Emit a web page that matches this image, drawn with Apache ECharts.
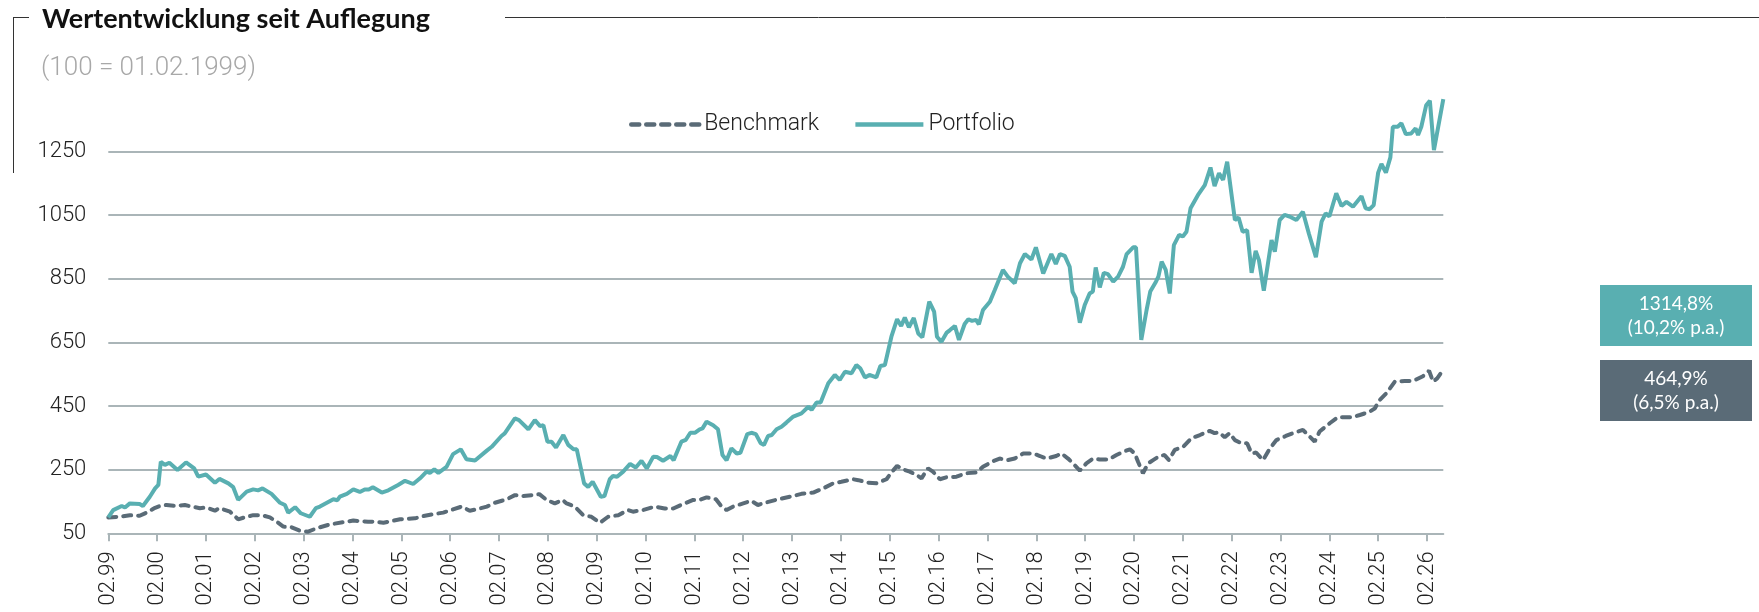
<!DOCTYPE html>
<html>
<head>
<meta charset="utf-8">
<script src="https://cdn.jsdelivr.net/npm/echarts@6/dist/echarts.min.js"></script>
<style>
  html, body { margin: 0; padding: 0; background: #fff; }
  #chart { width: 1759px; height: 612px; }
</style>
</head>
<body>
<div id="chart"></div>
<script>
// x = months since 02.1999, y = index (100 = 01.02.1999)
var yearLabels = ['02.99','02.00','02.01','02.02','02.03','02.04','02.05','02.06','02.07','02.08',
  '02.09','02.10','02.11','02.12','02.13','02.14','02.15','02.16','02.17','02.18',
  '02.19','02.20','02.21','02.22','02.23','02.24','02.25','02.26'];

var portfolio = [
  [0,100],[1.2,123],[3.3,136],[4.1,131],[5.3,144],[7.7,142],[8.5,136],[10.2,165],[11.5,191],[12.3,202],
  [12.9,275],[13.9,265],[15,272],[17,249],[19.1,273],[21.1,254],[22.1,228],[24,235],[26.2,209],[27.3,221],
  [29.5,207],[30.7,195],[31.9,155],[34,181],[35.6,188],[36.8,185],[37.9,191],[40.1,174],[42.2,146],[43.4,139],
  [44.2,115],[45.9,132],[47.3,113],[49.5,102],[51,129],[52,134],[55.3,157],[56.3,154],[56.9,165],[58.6,174],
  [60.2,188],[61.8,180],[63,188],[64,188],[65,195],[67.2,178],[68.8,185],[71.2,202],[72.9,215],[74.9,205],
  [76.6,223],[78.2,244],[79,240],[80.1,251],[81.1,240],[83.1,259],[84.7,299],[86.6,314],[88,283],[90.1,279],
  [93,310],[94.2,322],[96.6,356],[97.4,364],[99.9,411],[100.9,406],[103.2,377],[104.8,406],[106.1,387],[106.9,390],
  [107.9,338],[108.9,338],[110,320],[111.8,359],[113,328],[114.3,314],[115.1,314],[116.9,207],[117.9,196],[119,212],
  [121,165],[121.9,167],[123.2,220],[124,230],[125,228],[126.5,244],[128.2,268],[129.6,257],[131,278],[132.3,254],
  [133.9,291],[134.8,290],[136.3,278],[138.1,293],[138.9,280],[140.8,338],[141.9,344],[143,366],[144.1,366],[145.3,377],
  [146,380],[147,401],[148.6,390],[149.8,377],[150.9,296],[151.9,280],[153.1,317],[154.4,301],[155.3,303],[157,362],
  [158,366],[159.1,362],[160.3,333],[161.1,328],[162.1,356],[163,359],[164.2,377],[165.4,385],[166.6,398],[168.3,417],
  [170.3,427],[172,448],[172.8,438],[174,461],[175,461],[176.9,522],[178.5,548],[179.7,532],[181,558],[182.6,553],
  [183.8,579],[184.8,568],[185.9,540],[187,548],[188.7,540],[189.7,576],[190.8,579],[192.4,668],[193.8,723],[194.8,702],
  [195.7,728],[196.7,698],[197.9,727],[199,678],[200,666],[201.7,778],[202.9,747],[203.6,668],[204.7,652],[206,681],
  [206.8,689],[208,702],[209,658],[210.4,708],[211.3,723],[212.2,718],[213.2,721],[213.9,707],[214.9,752],[216.6,778],
  [217.8,815],[219.8,878],[221,857],[222.7,836],[224,899],[225.2,928],[226.8,911],[227.9,949],[229.7,867],[231.7,928],
  [232.8,897],[233.8,928],[235,922],[236.2,888],[236.9,810],[237.7,789],[238.7,712],[239.9,768],[241.1,804],[241.9,810],
  [242.6,886],[243.6,823],[244.6,869],[245.6,865],[246.9,841],[248.1,857],[249.3,888],[250.2,928],[251.8,949],[252.5,949],
  [253.8,658],[255.1,752],[256,810],[257.4,841],[258,857],[258.8,904],[259.8,878],[260.8,804],[261.8,956],[263.1,988],
  [264,983],[264.9,998],[265.9,1072],[267.7,1113],[269.4,1145],[270.8,1200],[271.8,1142],[272.9,1182],[273.9,1161],[274.9,1218],
  [276.8,1035],[277.7,1043],[278.7,998],[279.8,1003],[280.9,869],[281.9,938],[282.7,909],[283.9,813],[285.8,972],[286.6,935],
  [287.8,1035],[289,1051],[290.2,1046],[291.9,1035],[293.5,1061],[295,991],[296.7,918],[298.1,1030],[299.1,1056],[300,1046],
  [301.7,1119],[303,1079],[304.2,1092],[305.8,1077],[307.9,1110],[308.9,1072],[309.9,1069],[310.9,1082],[312,1184],[312.8,1211],
  [313.9,1184],[315,1232],[315.6,1328],[316.8,1328],[317.7,1339],[318.8,1305],[320.1,1307],[321.2,1323],[321.8,1302],[322.6,1328],
  [323.8,1396],[324.7,1410],[325.7,1255],[328,1414.8]
];

var benchmark = [
  [0,100],[2.9,102],[5.3,107],[7.7,105],[9.4,115],[11.5,130],[12.7,136],[14.3,139],[16.5,136],[18.8,139],
  [20.5,134],[22.5,129],[24.1,131],[26.2,121],[27.3,129],[29.9,118],[31.9,94],[34,102],[35.6,107],[37.7,107],
  [39.7,100],[41.4,86],[43,71],[45,69],[47.1,58],[49.1,55],[51.2,66],[54.5,78],[57.7,85],[60.2,90],
  [63.8,86],[65.5,87],[67.6,83],[71.7,94],[75.3,97],[77.4,104],[79.8,110],[82.3,115],[84.7,125],[86.8,134],
  [88.8,121],[90.4,125],[93,134],[95,146],[97.9,157],[99.9,170],[101.9,167],[104.4,170],[105.9,173],[107.7,155],
  [109.7,144],[111.6,155],[112.6,144],[114.6,134],[116.7,107],[118.7,102],[120.8,83],[122.8,102],[125.3,107],[127.7,123],
  [128.9,118],[131.4,123],[134.3,134],[136.7,128],[138.8,128],[141.2,142],[143.7,155],[145.3,155],[147,163],[149.3,157],
  [150.7,134],[151.9,123],[153.5,134],[156,144],[158,152],[159.6,139],[161.7,147],[164.6,157],[167.5,165],[170.3,174],
  [173.2,178],[175.6,191],[178.1,207],[180.1,212],[183,220],[184.3,217],[186.7,209],[188.7,207],[191.2,220],[192.4,241],
  [193.8,262],[195.3,251],[196.9,244],[198.6,233],[199.8,223],[201.4,254],[202.6,244],[204.3,220],[205.9,226],[208.4,228],
  [210.9,239],[213.3,241],[214.9,259],[217.4,277],[219,285],[221,280],[222.7,285],[224.8,301],[227.2,301],[228.9,293],
  [230.5,285],[232.9,293],[234.2,301],[235.8,285],[237,270],[238.7,247],[240.3,270],[242,285],[243.6,282],[245.7,282],
  [247.7,296],[249.3,306],[251,314],[252.2,301],[253,275],[254.2,239],[255.5,270],[256.7,280],[258.3,293],[259.5,296],
  [260.6,280],[262,312],[264.1,322],[266.1,349],[268.2,359],[270.6,372],[271.8,365],[272.9,367],[274.3,352],[275.5,365],
  [276.8,343],[278.4,333],[279.8,333],[280.9,301],[282,304],[283.7,280],[285.4,317],[287,343],[289.3,356],[291.1,365],
  [293.5,375],[294.8,359],[296.4,338],[297.6,370],[300.1,396],[302.1,415],[304,415],[305.8,415],[307.5,422],[309.9,432],
  [311.2,443],[312.2,467],[314,490],[316.1,527],[318.5,529],[320.6,529],[323,544],[324.5,561],[325.5,527],[326.5,537],
  [328,564.9]
];

var portfolioBox = ['1314,8%', '(10,2% p.a.)'];
var benchmarkBox = ['464,9%', '(6,5% p.a.)'];

var tickMonths = yearLabels.map(function (l, i) { return i * 12; });

var teal = '#59afb1';
var slate = '#5a6b77';
var gridColor = '#aab5b8';
var axisFont = 'Roboto';

var chart = echarts.init(document.getElementById('chart'));
chart.setOption({
  animation: false,
  backgroundColor: '#fff',
  title: [
    {
      text: 'Wertentwicklung seit Auflegung',
      left: 42, top: 6, padding: 0,
      textStyle: { fontFamily: 'Lato', fontWeight: 'bold', fontSize: 27, color: '#111' }
    },
    {
      text: '(100 = 01.02.1999)',
      left: 41, top: 55, padding: 0,
      textStyle: { fontFamily: axisFont, fontWeight: 300, fontSize: 26, color: '#a8a8a8' }
    }
  ],
  legend: {
    data: ['Benchmark', 'Portfolio'],
    left: 624, top: 108,
    itemWidth: 68, itemHeight: 14, itemGap: 34,
    itemStyle: { opacity: 0 },
    lineStyle: { width: 4.5 },
    textStyle: { fontFamily: axisFont, fontWeight: 300, fontSize: 23, color: '#222' }
  },
  grid: { left: 108.3, right: 315.7, top: 88, bottom: 78.7, containLabel: false },
  xAxis: {
    type: 'value', min: 0, max: 328,
    axisLine: { show: true, lineStyle: { color: gridColor, width: 2 } },
    axisTick: { show: true, length: 8, customValues: tickMonths, lineStyle: { color: gridColor, width: 2 } },
    axisLabel: {
      customValues: tickMonths, rotate: 90, margin: 18,
      fontFamily: axisFont, fontWeight: 300, fontSize: 22, color: '#222',
      formatter: function (v) { return yearLabels[Math.round(v / 12)]; }
    },
    splitLine: { show: false }
  },
  yAxis: {
    type: 'value', min: 50, max: 1450, interval: 200,
    axisLine: { show: false }, axisTick: { show: false },
    axisLabel: {
      showMaxLabel: false, margin: 22, fontFamily: axisFont, fontWeight: 300, fontSize: 22, color: '#222',
      formatter: function (v) { return String(v); }
    },
    splitLine: { showMaxLine: false, lineStyle: { color: gridColor, width: 2 } }
  },
  series: [
    {
      name: 'Benchmark', type: 'line', data: benchmark, symbol: 'none', z: 2,
      lineStyle: { color: slate, width: 4, type: [8, 7], cap: 'round' },
      itemStyle: { color: slate }
    },
    {
      name: 'Portfolio', type: 'line', data: portfolio, symbol: 'none', z: 3,
      lineStyle: { color: teal, width: 4 },
      itemStyle: { color: teal }
    }
  ],
  graphic: [
    { type: 'line', shape: { x1: 13, y1: 17.5, x2: 29, y2: 17.5 }, style: { stroke: '#333', lineWidth: 1 } },
    { type: 'line', shape: { x1: 505, y1: 17.5, x2: 1759, y2: 17.5 }, style: { stroke: '#333', lineWidth: 1 } },
    { type: 'line', shape: { x1: 13.5, y1: 17, x2: 13.5, y2: 173 }, style: { stroke: '#333', lineWidth: 1 } },
    { type: 'rect', shape: { x: 1600, y: 285, width: 152, height: 61 }, style: { fill: teal } },
    {
      type: 'text', x: 1676, y: 315.5,
      style: { text: portfolioBox.join('\n'), fill: '#fff', font: '19px Lato', align: 'center', verticalAlign: 'middle', lineHeight: 24 }
    },
    { type: 'rect', shape: { x: 1600, y: 360, width: 152, height: 61 }, style: { fill: slate } },
    {
      type: 'text', x: 1676, y: 390.5,
      style: { text: benchmarkBox.join('\n'), fill: '#fff', font: '19px Lato', align: 'center', verticalAlign: 'middle', lineHeight: 24 }
    }
  ]
});
</script>
</body>
</html>
